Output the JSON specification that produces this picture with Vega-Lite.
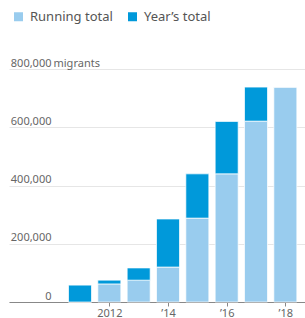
{
  "$schema": "https://vega.github.io/schema/vega-lite/v6.json",
  "autosize": {"type": "none"},
  "padding": {"left": 9, "top": 69, "right": 0, "bottom": 16},
  "width": 296,
  "height": 233,
  "config": {"view": {"stroke": null}, "font": "Noto Sans"},
  "data": {
    "values": [
      {"year": 2011, "series": "Running total", "value": 0},
      {"year": 2011, "series": "Year’s total", "value": 58000},
      {"year": 2012, "series": "Running total", "value": 62000},
      {"year": 2012, "series": "Year’s total", "value": 13000},
      {"year": 2013, "series": "Running total", "value": 75000},
      {"year": 2013, "series": "Year’s total", "value": 42000},
      {"year": 2014, "series": "Running total", "value": 120000},
      {"year": 2014, "series": "Year’s total", "value": 165000},
      {"year": 2015, "series": "Running total", "value": 288000},
      {"year": 2015, "series": "Year’s total", "value": 152000},
      {"year": 2016, "series": "Running total", "value": 440000},
      {"year": 2016, "series": "Year’s total", "value": 180000},
      {"year": 2017, "series": "Running total", "value": 621000},
      {"year": 2017, "series": "Year’s total", "value": 117000},
      {"year": 2018, "series": "Running total", "value": 738000},
      {"year": 2018, "series": "Year’s total", "value": 0}
    ]
  },
  "mark": {"type": "bar", "width": 23, "stroke": "white", "strokeWidth": 0.7},
  "encoding": {
    "x": {
      "field": "year",
      "type": "quantitative",
      "scale": {"domain": [2008.75, 2018.5], "nice": false, "zero": false},
      "axis": {
        "values": [2012, 2014, 2016, 2018],
        "labelExpr": "datum.value == 2012 ? '2012' : '’' + slice(toString(datum.value), 2)",
        "title": null,
        "grid": false,
        "domainColor": "#888888",
        "tickColor": "#888888",
        "tickSize": 4,
        "labelFontSize": 11,
        "labelColor": "#666666",
        "labelPadding": 1
      }
    },
    "y": {
      "field": "value",
      "type": "quantitative",
      "stack": "zero",
      "scale": {"domain": [0, 800000], "nice": false},
      "axis": {
        "values": [0, 200000, 400000, 600000, 800000],
        "format": ",d",
        "domain": false,
        "ticks": false,
        "tickSize": 0,
        "gridColor": "#e6e6e6",
        "labelAlign": "right",
        "labelBaseline": "bottom",
        "labelPadding": -42,
        "labelOffset": -1,
        "labelFontSize": 11,
        "labelColor": "#666666",
        "title": "migrants",
        "titleAngle": 0,
        "titleX": 44,
        "titleY": -1,
        "titleAlign": "left",
        "titleBaseline": "bottom",
        "titleFontSize": 11,
        "titleFontWeight": "normal",
        "titleColor": "#666666"
      }
    },
    "color": {
      "field": "series",
      "type": "nominal",
      "scale": {"domain": ["Running total", "Year’s total"], "range": ["#99CCEE", "#0099DA"]},
      "legend": {
        "orient": "none",
        "legendX": 3,
        "legendY": -59,
        "direction": "horizontal",
        "title": null,
        "symbolType": "square",
        "symbolSize": 81,
        "symbolStrokeWidth": 0,
        "labelFontSize": 13,
        "labelColor": "#555555",
        "columnPadding": 13,
        "labelOffset": 5
      }
    },
    "order": {"field": "series", "sort": "ascending"}
  }
}
